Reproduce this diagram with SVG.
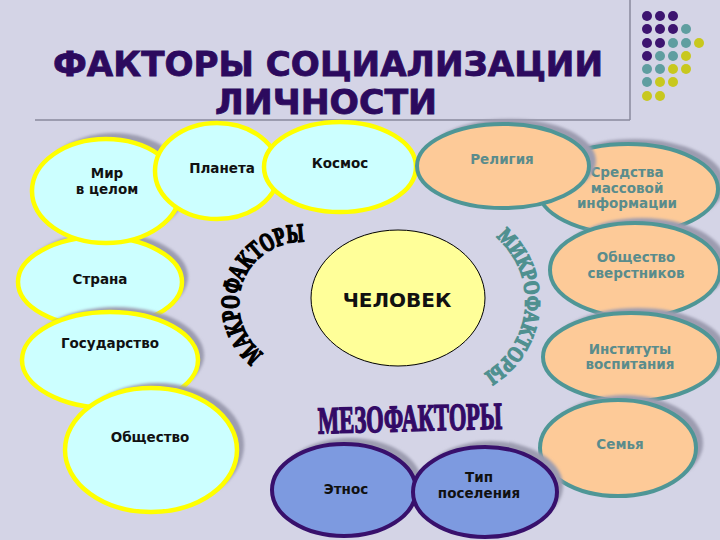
<svg xmlns="http://www.w3.org/2000/svg" width="720" height="540" viewBox="0 0 720 540">
<defs>
<style>
.cy{fill:#ccffff;stroke:#ffff00;stroke-width:4.5}
.or{fill:#fdca98;stroke:#4f9696;stroke-width:4}
.bl{fill:#7d9ae0;stroke:#38106c;stroke-width:4}
.sh{fill:#9c9cb0;filter:url(#blur)}
.t{font-family:"DejaVu Sans","Noto Sans",sans-serif;font-size:13.5px;font-weight:bold;text-anchor:middle}
.tk{fill:#111111}
.to{fill:#5a8c8c}
.title{font-family:"DejaVu Sans","Noto Sans",sans-serif;font-size:33px;font-weight:bold;fill:#2c0a5e;stroke:#2c0a5e;stroke-width:0.8;text-anchor:middle}
.wa{font-family:"Liberation Serif","DejaVu Serif",serif;font-weight:bold;text-anchor:middle}
.dp{fill:#3d1470}.dt{fill:#5f9ea0}.dy{fill:#c8c81e}
</style>
<filter id="blur" x="-10%" y="-10%" width="120%" height="120%"><feGaussianBlur stdDeviation="1.5"/></filter>
<path id="arcMakro" d="M 270 357.7 A 62 62 0 0 1 311.8 242.9"/>
<path id="arcMikro" d="M 483.5 228.3 A 84 84 0 0 1 470.2 379.9"/>
</defs>
<rect width="720" height="540" fill="#d4d4e6"/>

<g id="decor">
<line x1="35" y1="120" x2="630" y2="120" stroke="#8a8a9c" stroke-width="1.5"/>
<line x1="630" y1="0" x2="630" y2="120" stroke="#8a8a9c" stroke-width="1.5"/>
<g id="dots">
<circle class="dp" cx="647" cy="16" r="5"/><circle class="dp" cx="660" cy="16" r="5"/><circle class="dp" cx="673" cy="16" r="5"/>
<circle class="dp" cx="647" cy="29" r="5"/><circle class="dp" cx="660" cy="29" r="5"/><circle class="dp" cx="673" cy="29" r="5"/><circle class="dt" cx="686" cy="29" r="5"/>
<circle class="dp" cx="647" cy="43" r="5"/><circle class="dp" cx="660" cy="43" r="5"/><circle class="dt" cx="673" cy="43" r="5"/><circle class="dt" cx="686" cy="43" r="5"/><circle class="dy" cx="699" cy="43" r="5"/>
<circle class="dp" cx="647" cy="56" r="5"/><circle class="dt" cx="660" cy="56" r="5"/><circle class="dt" cx="673" cy="56" r="5"/><circle class="dy" cx="686" cy="56" r="5"/>
<circle class="dt" cx="647" cy="69" r="5"/><circle class="dt" cx="660" cy="69" r="5"/><circle class="dy" cx="673" cy="69" r="5"/><circle class="dy" cx="686" cy="69" r="5"/>
<circle class="dt" cx="647" cy="82" r="5"/><circle class="dy" cx="660" cy="82" r="5"/><circle class="dy" cx="673" cy="82" r="5"/>
<circle class="dy" cx="647" cy="96" r="5"/><circle class="dy" cx="660" cy="96" r="5"/>
</g>
</g>

<g id="title">
<text class="title" x="328" y="76" textLength="550" lengthAdjust="spacingAndGlyphs">ФАКТОРЫ СОЦИАЛИЗАЦИИ</text>
<text class="title" x="326" y="114" textLength="222" lengthAdjust="spacingAndGlyphs">ЛИЧНОСТИ</text>
</g>

<g id="connectors"></g>

<g id="n-strana"><ellipse class="sh" cx="106" cy="277" rx="82" ry="45"/><ellipse class="cy" cx="100" cy="282" rx="82" ry="45"/><text class="t tk" x="100" y="284">Страна</text></g>
<g id="n-mir"><ellipse class="sh" cx="114" cy="185" rx="74" ry="52"/><ellipse class="cy" cx="106" cy="191" rx="74" ry="52"/><text class="t tk" x="107" y="178">Мир</text><text class="t tk" x="107" y="194">в целом</text></g>
<g id="n-planeta"><ellipse class="cy" cx="217" cy="171" rx="62" ry="48"/><text class="t tk" x="222" y="173">Планета</text></g>
<g id="n-kosmos"><ellipse class="cy" cx="340" cy="167" rx="76" ry="45"/><text class="t tk" x="340" y="168">Космос</text></g>
<g id="n-gosudarstvo"><ellipse class="sh" cx="116" cy="355" rx="88" ry="48"/><ellipse class="cy" cx="110" cy="360" rx="88" ry="48"/><text class="t tk" x="110" y="348">Государство</text></g>
<g id="n-obshchestvo"><ellipse class="sh" cx="158" cy="445" rx="86" ry="62"/><ellipse class="cy" cx="151" cy="450" rx="86" ry="62"/><text class="t tk" x="150" y="442">Общество</text></g>

<g id="n-sredstva"><ellipse class="sh" cx="635" cy="184" rx="90" ry="45"/><ellipse class="or" cx="628" cy="189" rx="90" ry="45"/><text class="t to" x="627" y="177">Средства</text><text class="t to" x="627" y="193">массовой</text><text class="t to" x="627" y="208">информации</text></g>
<g id="n-religiya"><ellipse class="sh" cx="510" cy="161" rx="86" ry="42"/><ellipse class="or" cx="503" cy="166" rx="86" ry="42"/><text class="t to" x="502" y="164">Религия</text></g>
<g id="n-sverstniki"><ellipse class="sh" cx="642" cy="265" rx="85" ry="47"/><ellipse class="or" cx="635" cy="270" rx="85" ry="47"/><text class="t to" x="636" y="262">Общество</text><text class="t to" x="636" y="278">сверстников</text></g>
<g id="n-instituty"><ellipse class="sh" cx="638" cy="352" rx="88" ry="44"/><ellipse class="or" cx="631" cy="357" rx="88" ry="44"/><text class="t to" x="630" y="354">Институты</text><text class="t to" x="630" y="369">воспитания</text></g>
<g id="n-semya"><ellipse class="sh" cx="625" cy="443" rx="78" ry="48"/><ellipse class="or" cx="618" cy="448" rx="78" ry="48"/><text class="t to" x="620" y="449">Семья</text></g>

<g id="n-etnos"><ellipse class="sh" cx="350" cy="484" rx="72" ry="46"/><ellipse class="bl" cx="344" cy="490" rx="72" ry="46"/><text class="t tk" x="346" y="494">Этнос</text></g>
<g id="n-tip"><ellipse class="sh" cx="491" cy="486" rx="72" ry="45"/><ellipse class="bl" cx="485" cy="492" rx="72" ry="45"/><text class="t tk" x="479" y="482">Тип</text><text class="t tk" x="479" y="498">поселения</text></g>

<g id="n-chelovek"><ellipse cx="398" cy="298" rx="87" ry="68" fill="#ffff99" stroke="#000" stroke-width="1"/><text class="t tk" x="397" y="307" style="font-size:20px">ЧЕЛОВЕК</text></g>

<g id="labels">
<text class="wa" font-size="26" fill="#000" stroke="#000" stroke-width="1.6"><textPath href="#arcMakro" startOffset="50%" textLength="158" lengthAdjust="spacingAndGlyphs">МАКРОФАКТОРЫ</textPath></text>
<text class="wa" font-size="22" fill="#4f9090" stroke="#4f9090" stroke-width="1.4"><textPath href="#arcMikro" startOffset="50%" textLength="160" lengthAdjust="spacingAndGlyphs">МИКРОФАКТОРЫ</textPath></text>
<text class="wa" x="410" y="431" font-size="38" fill="#330a66" stroke="#330a66" stroke-width="1.6" textLength="184" lengthAdjust="spacingAndGlyphs" transform="rotate(-1.5 410 418)">МЕЗОФАКТОРЫ</text>
</g>
</svg>
